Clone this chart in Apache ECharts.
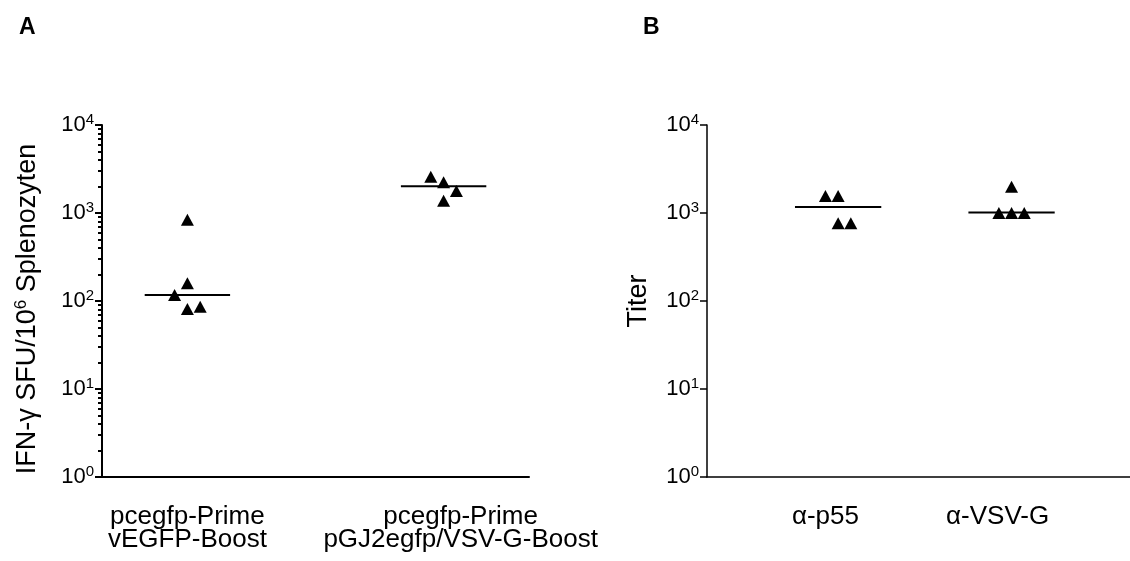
<!DOCTYPE html>
<html>
<head>
<meta charset="utf-8">
<title>ELISpot / Titer</title>
<script src="https://cdn.jsdelivr.net/npm/echarts@6/dist/echarts.min.js"></script>
<style>
    html, body { margin: 0; padding: 0; background: #fff; }
    #chart { width: 1130px; height: 561px; }
</style>
</head>
<body>
<div id="chart"></div>
<script>
// Panel A: IFN-γ SFU / 10^6 Splenozyten
const groupsA = ['pcegfp-Prime\nvEGFP-Boost', 'pcegfp-Prime\npGJ2egfp/VSV-G-Boost']
const valuesA1 = [840, 159, 117, 81, 86]
const valuesA2 = [2590, 2230, 1780, 1380]
const mediansA = [117, 2010]

// Panel B: Titer
const groupsB = ['α-p55', 'α-VSV-G']
const valuesB1 = [1560, 1560, 764, 764]
const valuesB2 = [1990, 1000, 1000, 1000]
const mediansB = [1170, 1010]

const yTicks = [1, 10, 100, 1000, 10000]

// jitter slot of each point (left / centre / right), as plotted
const jitterA = [[0, 0, -1, 0, 1], [-1, 0, 1, 0]]
const jitterB = [[-1, 0, 0, 1], [0, -1, 0, 1]]

const font = 'Liberation Sans, Arial, Helvetica, sans-serif'
const black = '#000'

// group centres and category-label anchors on the x value axes
const centersA = [1, 4]
const labelPosA = [1, 4.2]
const centersB = [3.1, 7.2]
const labelPosB = [2.8, 6.87]

const minorTicks = []
for (let d = 1; d < 10000; d *= 10) {
    for (let k = 2; k <= 9; k++) minorTicks.push(k * d)
}

const supLabel = (v) => '{b|10}{s|' + Math.round(Math.log10(v)) + '}'
const tickRich = {
    b: { fontSize: 22, color: black, fontFamily: font },
    s: { fontSize: 15, color: black, fontFamily: font, padding: [0, 0, 11, 0] }
}

const makeY = (grid, width, extra) => Object.assign({
    type: 'log',
    logBase: 10,
    gridIndex: grid,
    min: 1,
    max: 10000,
    splitLine: { show: false },
    axisLine: { show: true, lineStyle: { color: black, width: width } },
    axisTick: { show: true, length: 7, lineStyle: { color: black, width: width } },
    axisLabel: {
        customValues: yTicks,
        formatter: supLabel,
        rich: tickRich,
        margin: 8,
        color: black
    },
    nameLocation: 'middle',
    nameRotate: 90,
    nameTextStyle: { fontSize: 27, color: black, fontFamily: font }
}, extra)

const makeX = (grid, max, positions, labels, width) => ({
    type: 'value',
    gridIndex: grid,
    min: 0,
    max: max,
    splitLine: { show: false },
    axisLine: { show: true, onZero: false, lineStyle: { color: black, width: width } },
    axisTick: { show: false },
    axisLabel: {
        customValues: positions,
        formatter: (v) => labels[positions.indexOf(v)] || '',
        fontSize: 26,
        lineHeight: 23,
        color: black,
        fontFamily: font,
        margin: 28
    }
})

const scatterData = (vals, center, slots, step) =>
    vals.map((v, i) => [center + slots[i] * step, v])

const triangle = (xi, yi, data) => ({
    type: 'scatter',
    xAxisIndex: xi,
    yAxisIndex: yi,
    symbol: 'triangle',
    symbolSize: [13, 12],
    itemStyle: { color: black, opacity: 1 },
    data: data,
    silent: true
})

const median = (xi, yi, center, half, m, width) => ({
    type: 'line',
    xAxisIndex: xi,
    yAxisIndex: yi,
    symbol: 'none',
    lineStyle: { color: black, width: width },
    data: [[center - half, m], [center + half, m]],
    silent: true
})

const option = {
    backgroundColor: '#fff',
    animation: false,
    textStyle: { fontFamily: font },
    grid: [
        { left: 102, top: 125, width: 427, height: 352 },
        { left: 707, top: 125, width: 423, height: 352 }
    ],
    xAxis: [
        makeX(0, 5, labelPosA, groupsA, 2),
        makeX(1, 10, labelPosB, groupsB, 1.5)
    ],
    yAxis: [
        makeY(0, 2, {
            name: 'IFN-γ SFU/10{s|6} Splenozyten',
            nameGap: 59,
            nameTextStyle: {
                fontSize: 27, color: black, fontFamily: font,
                padding: [0, 16, 0, 0],
                rich: { s: { fontSize: 17, color: black, fontFamily: font, padding: [0, 0, 13, 0] } }
            }
        }),
        makeY(1, 1.5, { name: 'Titer', nameGap: 55 }),
        // minor log ticks on panel A, drawn at the left axis line
        {
            type: 'log',
            logBase: 10,
            gridIndex: 0,
            position: 'right',
            offset: -427,
            min: 1,
            max: 10000,
            splitLine: { show: false },
            axisLine: { show: false },
            axisTick: { show: true, inside: true, customValues: minorTicks, length: 4, lineStyle: { color: black, width: 2 } },
            axisLabel: { show: false }
        }
    ],
    series: [
        triangle(0, 0, scatterData(valuesA1, centersA[0], jitterA[0], 0.15)),
        triangle(0, 0, scatterData(valuesA2, centersA[1], jitterA[1], 0.15)),
        median(0, 0, centersA[0], 0.5, mediansA[0], 2),
        median(0, 0, centersA[1], 0.5, mediansA[1], 2),
        triangle(1, 1, scatterData(valuesB1, centersB[0], jitterB[0], 0.3)),
        triangle(1, 1, scatterData(valuesB2, centersB[1], jitterB[1], 0.3)),
        median(1, 1, centersB[0], 1.02, mediansB[0], 2),
        median(1, 1, centersB[1], 1.02, mediansB[1], 2)
    ],
    graphic: [
        { type: 'text', left: 19, top: 16, style: { text: 'A', font: 'bold 23px ' + font, fill: black } },
        { type: 'text', left: 643, top: 16, style: { text: 'B', font: 'bold 23px ' + font, fill: black } }
    ]
}

const chart = echarts.init(document.getElementById('chart'), null, { renderer: 'canvas' })
chart.setOption(option)
window.addEventListener('resize', () => chart.resize())
</script>
</body>
</html>
